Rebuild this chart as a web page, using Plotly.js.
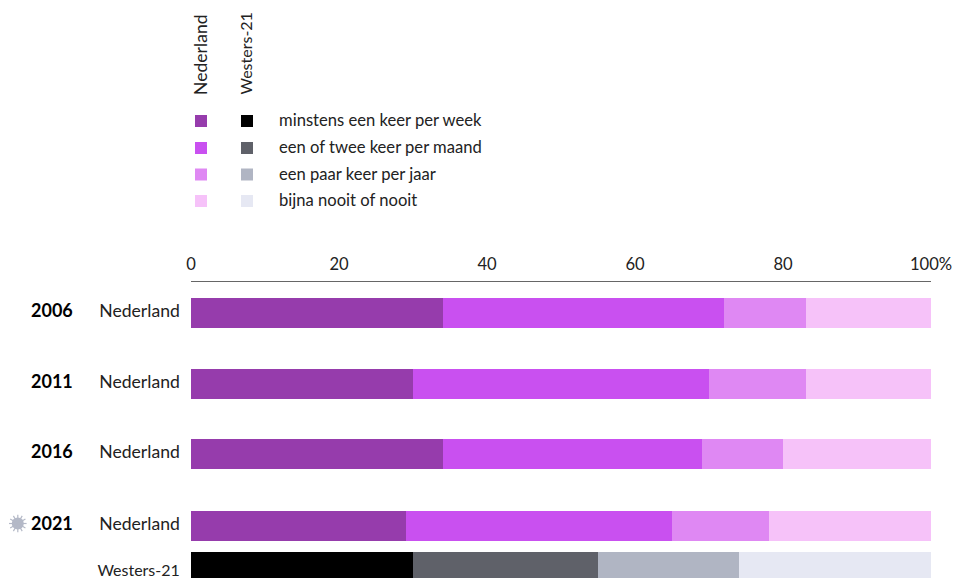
<!DOCTYPE html>
<html><head><meta charset="utf-8">
<script src="https://cdn.plot.ly/plotly-3.0.1.min.js"></script>
<style>html,body{margin:0;padding:0;background:#fff}#c{width:954px;height:578px}</style>
</head><body><div id="c"></div>
<script>
var seriesNames = ["minstens een keer per week","een of twee keer per maand","een paar keer per jaar","bijna nooit of nooit"];
var rowLabels = ["Nederland","Nederland","Nederland","Nederland","Westers-21"];
var yearLabels = ["2006","2011","2016","2021"];
var weekly  = [34,30,34,29,30];
var monthly = [38,40,35,36,25];
var yearly  = [11.1,13.1,11,13.1,19];
var never   = [16.9,16.9,20,21.9,26];
var nlColors = ["#963cac","#c950f0","#df88f3","#f6c2f9"];
var wColors  = ["#000000","#5f6169","#b0b5c3","#e6e8f3"];
var xTicks = [0,20,40,60,80,100];
var xTickText = ["0","20","40","60","80","100%"];
var rowPos = [313,384,454,526,567];
var rowLabelPos = [311,382,452,524,570];

var L=191,R=931,T=282,B=578,W=954,H=578;
var FONT='Lato, "Open Sans", sans-serif';
function px(x){return (x-L)/(R-L);}
function py(y){return (B-y)/(B-T);}
function sized(t){return t==="Nederland"?'<span style="font-size:17.6px">'+t+'</span>':t;}
var all=[weekly,monthly,yearly,never];
var traces=all.map(function(vals,i){
  return {type:'bar',orientation:'h',name:seriesNames[i],x:vals,y:rowPos,width:30,
    marker:{color:rowPos.map(function(_,r){return r<4?nlColors[i]:wColors[i];}),line:{width:0}},
    hoverinfo:'x+name',showlegend:false};
});
var shapes=[],ann=[];
var legY=[121,148,174.5,201];
seriesNames.forEach(function(n,i){
  [[195,nlColors[i]],[241,wColors[i]]].forEach(function(c){
    shapes.push({type:'rect',xref:'paper',yref:'paper',x0:px(c[0]),x1:px(c[0]+12),y0:py(legY[i]-6),y1:py(legY[i]+6),fillcolor:c[1],line:{width:0},layer:'above'});
  });
  ann.push({xref:'paper',yref:'paper',x:px(276.5),y:py(legY[i]-1),text:n,showarrow:false,xanchor:'left',yanchor:'middle',font:{family:FONT,size:16.6,color:'#222'}});
});
[["Nederland",200.5,17.6],["Westers-21",244.5,16]].forEach(function(h){
  ann.push({xref:'paper',yref:'paper',x:px(h[1]),y:py(97),text:h[0],textangle:-90,showarrow:false,xanchor:'center',yanchor:'bottom',font:{family:FONT,size:h[2],color:'#222'}});
});
yearLabels.forEach(function(t,i){
  ann.push({xref:'paper',yref:'paper',x:px(29),y:py(rowPos[i]-3),text:'<b>'+t+'</b>',showarrow:false,xanchor:'left',yanchor:'middle',font:{family:FONT,size:18,color:'#000'}});
});
var cx=17.8,cy=523.5,col='#b4b9c7';
shapes.push({type:'circle',xref:'paper',yref:'paper',x0:px(cx-6),x1:px(cx+6),y0:py(cy+6),y1:py(cy-6),fillcolor:col,line:{width:0}});
for(var k=0;k<12;k++){var a=k*Math.PI/6;
  shapes.push({type:'line',xref:'paper',yref:'paper',x0:px(cx),y0:py(cy),x1:px(cx+8.8*Math.cos(a)),y1:py(cy+8.8*Math.sin(a)),line:{color:col,width:1.2}});
}
var layout={width:W,height:H,margin:{l:L,r:W-R,t:T,b:0,pad:0},paper_bgcolor:'#fff',plot_bgcolor:'#fff',
  barmode:'stack',bargap:0,showlegend:false,shapes:shapes,annotations:ann,
  font:{family:FONT,size:16,color:'#222'},
  xaxis:{side:'top',range:[0,100],tickmode:'array',tickvals:xTicks,ticktext:xTickText,showgrid:false,zeroline:false,
    showline:true,linecolor:'#666',linewidth:1.5,ticks:'outside',ticklen:4,tickcolor:'rgba(0,0,0,0)',tickfont:{family:FONT,size:16.6,color:'#222'}},
  yaxis:{range:[B,T],tickmode:'array',tickvals:rowLabelPos,ticktext:rowLabels.map(sized),showgrid:false,zeroline:false,showline:false,
    ticks:'outside',ticklen:7,tickcolor:'rgba(0,0,0,0)',ticklabeloverflow:'allow',tickfont:{family:FONT,size:16,color:'#222'}}
};
Plotly.newPlot('c',traces,layout,{displayModeBar:false,staticPlot:true});
</script></body></html>
